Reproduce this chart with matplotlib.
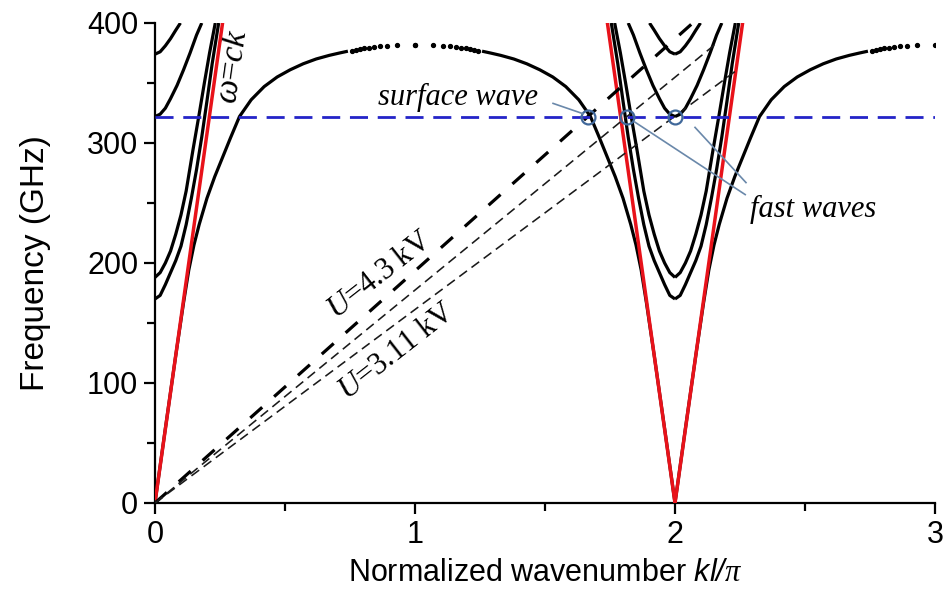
import matplotlib
matplotlib.use('Agg')
import matplotlib.pyplot as plt
from matplotlib import font_manager
from matplotlib.ticker import MultipleLocator

# wavenumber in units of kl/pi, frequency in GHz
# lowest (surface) mode over the first half-zone
surf_k = [0, 0.04, 0.08, 0.11, 0.13, 0.15, 0.17, 0.20, 0.23, 0.26, 0.29, 0.325,
          0.37, 0.42, 0.47, 0.52, 0.57, 0.62, 0.67, 0.71, 0.742]
surf_f = [0, 62, 123, 167, 194, 215, 232, 254, 272, 288, 304, 322,
          336, 347, 355, 361, 366, 370, 373, 375, 376.5]
# sparse computed points near the zone edge, distance from kl/pi = 1
edge_dk = [0.242, 0.227, 0.212, 0.196, 0.177, 0.158, 0.135, 0.108, 0.069, 0.0]
edge_f = [377, 377.6, 378.2, 378.8, 379.4, 380.0, 380.6, 381.2, 381.7, 382]

# higher modes, distance from kl/pi = 0 (and 2)
mode1_k = [0, 0.02, 0.04, 0.06, 0.08, 0.10, 0.12, 0.14, 0.16, 0.18, 0.20, 0.22, 0.245]
mode1_f = [170, 173, 182, 192, 202, 214, 232, 254, 278, 305, 335, 366, 400]
mode2_k = [0, 0.02, 0.04, 0.06, 0.08, 0.10, 0.12, 0.146, 0.17, 0.19, 0.21, 0.232]
mode2_f = [188, 192, 200, 210, 224, 240, 260, 294, 324, 350, 375, 400]
mode3_k = [0, 0.02, 0.04, 0.06, 0.085, 0.11, 0.135, 0.16, 0.18]
mode3_f = [322, 324, 329, 337, 348, 361, 375, 390, 400]
mode4_k = [0, 0.02, 0.04, 0.06, 0.08, 0.098]
mode4_f = [374, 376, 381, 387, 394, 400]
modes = [(mode1_k, mode1_f), (mode2_k, mode2_f), (mode3_k, mode3_f), (mode4_k, mode4_f)]

# light line omega = ck
light_k = [0, 0.26]
light_f = [0, 400]

# electron beam lines (GHz per unit kl/pi) and where they stop
beam_slope = [193.4, 177.4, 161.2]
beam_kmax = [2.07, 2.16, 2.235]

f_op = 322  # operating frequency
cross_k = [1.665, 1.815, 2.0]

names = {f.name for f in font_manager.fontManager.ttflist}
sans = 'Liberation Sans Narrow' if 'Liberation Sans Narrow' in names else 'Liberation Sans'
serif = 'Liberation Serif'

plt.rcParams['font.family'] = sans
plt.rcParams['mathtext.fontset'] = 'custom'
plt.rcParams['mathtext.it'] = serif + ':italic'
plt.rcParams['mathtext.rm'] = serif
plt.rcParams['mathtext.sf'] = sans + ':italic'

fig = plt.figure(figsize=(9.46, 5.94), dpi=100)
ax = fig.add_axes([0.1638, 0.1532, 0.8246, 0.8081])

lw = 2.3
line_kw = dict(color='k', lw=lw, zorder=3, solid_joinstyle='round', solid_capstyle='butt')
# each branch repeats around kl/pi = 0 and 2
for kk, ff in modes + [(surf_k, surf_f)]:
    ax.plot(kk, ff, **line_kw)
    ax.plot([2 - k for k in kk], ff, **line_kw)
    ax.plot([2 + k for k in kk], ff, **line_kw)

ax.plot([1 - d for d in edge_dk] + [1 + d for d in edge_dk[::-1]],
        edge_f + edge_f[::-1], 'o', color='k', ms=2.8, zorder=3)
ax.plot([3 - d for d in edge_dk], edge_f, 'o', color='k', ms=2.8, zorder=3)

red = '#e8121a'
ax.plot(light_k, light_f, color=red, lw=2.5, zorder=4)
ax.plot([2 - k for k in light_k], light_f, color=red, lw=2.5, zorder=4)
ax.plot([2 + k for k in light_k], light_f, color=red, lw=2.5, zorder=4)

# beam lines
ax.plot([0, beam_kmax[0]], [0, beam_slope[0] * beam_kmax[0]], color='k',
        lw=2.3, dashes=(5, 5), zorder=5)
for s, km in zip(beam_slope[1:], beam_kmax[1:]):
    ax.plot([0, km], [0, s * km], color='#1a1a1a', lw=1.15, dashes=(6, 3.5), zorder=5)

ax.axhline(f_op, color='#2424c8', lw=2.0, dashes=(6.5, 3.5), zorder=6)

ax.plot(cross_k, [f_op] * 3, 'o', ms=10, mfc='none', mec='#40689a', mew=1.6, zorder=7)

lead = '#6a88aa'
ax.plot([1.531, 1.645], [333, 324.5], color=lead, lw=1.2, zorder=7)
ax.plot([1.845, 2.27], [317.5, 257], color=lead, lw=1.2, zorder=7)
ax.plot([2.077, 2.273], [313, 267], color=lead, lw=1.2, zorder=7)

ax.text(1.473, 332, 'surface wave', family=serif, style='italic', fontsize=22,
        ha='right', va='baseline')
ax.text(2.288, 238, 'fast waves', family=serif, style='italic', fontsize=22,
        ha='left', va='baseline')
ax.text(0.865, 190, r'$U$=4.3 kV', family=serif, fontsize=22, rotation=38,
        ha='center', va='center', rotation_mode='anchor')
ax.text(0.93, 126, r'$U$=3.11 kV', family=serif, fontsize=22, rotation=38,
        ha='center', va='center', rotation_mode='anchor')
ax.text(0.302, 364, r'$\omega$=$ck$', family=serif, fontsize=24, rotation=82,
        ha='center', va='center', rotation_mode='anchor')

ax.set_xlim(0, 3)
ax.set_ylim(0, 400)
ax.spines['top'].set_visible(False)
ax.spines['right'].set_visible(False)
for sp in ('left', 'bottom'):
    ax.spines[sp].set_linewidth(1.6)
ax.xaxis.set_major_locator(MultipleLocator(1))
ax.xaxis.set_minor_locator(MultipleLocator(0.5))
ax.yaxis.set_major_locator(MultipleLocator(100))
ax.yaxis.set_minor_locator(MultipleLocator(50))
ax.tick_params(which='major', direction='out', length=8, width=1.6, labelsize=22, pad=4)
ax.tick_params(which='minor', direction='out', length=6, width=1.6)

ax.set_xlabel(r'Normalized wavenumber $\mathsf{kl/}\pi$', fontsize=22, labelpad=6)
ax.set_ylabel('Frequency (GHz)', fontsize=24, labelpad=26)

fig.savefig('out.png', dpi=100)
